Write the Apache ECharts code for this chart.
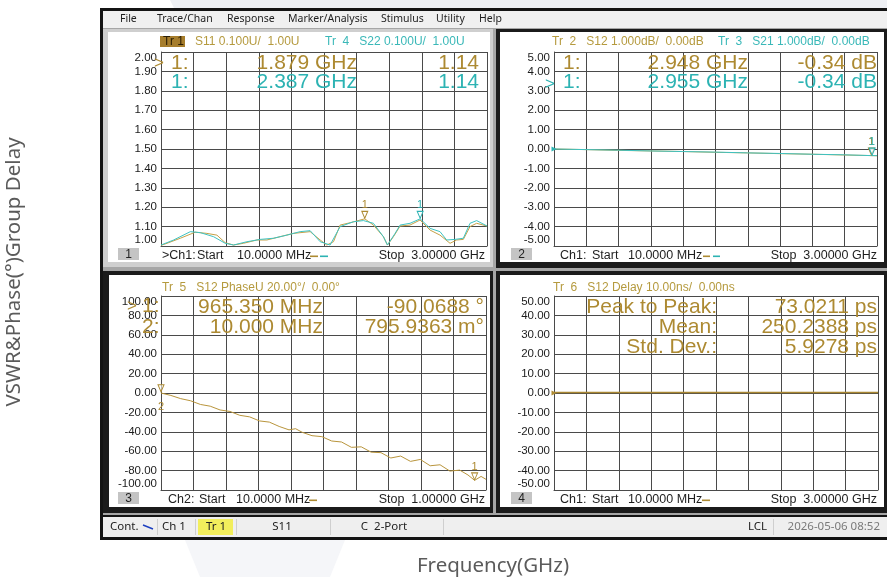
<!DOCTYPE html>
<html><head><meta charset="utf-8">
<script src="https://cdn.jsdelivr.net/npm/echarts@6/dist/echarts.min.js"></script>
<style>html,body{margin:0;padding:0;background:#fff}#c{width:887px;height:577px}</style>
</head><body><div id="c"></div>
<script>
// ---------- data ----------
// Panel 1: VSWR (S11 orange, S22 teal), 10 MHz .. 3 GHz
const s11Freq = [0.01,0.065,0.187,0.324,0.431,0.523,0.599,0.675,0.767,0.890,0.981,1.103,1.225,1.378,1.470,1.531,1.592,1.653,1.745,1.879,1.958,2.050,2.087,2.142,2.203,2.294,2.386,2.478,2.569,2.661,2.722,2.783,2.844,2.905,3.0];
const s11Vswr = [1.003,1.014,1.040,1.071,1.065,1.056,1.017,1.005,1.014,1.031,1.031,1.048,1.065,1.074,1.031,1.005,1.022,1.108,1.120,1.140,1.108,1.048,1.005,1.048,1.103,1.108,1.134,1.082,1.056,1.014,1.031,1.034,1.100,1.117,1.103];
const s22Freq = [0.01,0.126,0.279,0.370,0.492,0.599,0.675,0.798,0.920,1.042,1.164,1.286,1.378,1.470,1.561,1.653,1.775,1.867,1.958,2.050,2.087,2.157,2.203,2.294,2.387,2.478,2.569,2.630,2.706,2.783,2.844,2.905,3.0];
const s22Vswr = [1.005,1.031,1.074,1.069,1.048,1.014,1.005,1.022,1.034,1.040,1.056,1.074,1.079,1.022,1.005,1.100,1.125,1.131,1.117,1.048,1.005,1.065,1.108,1.117,1.140,1.091,1.074,1.031,1.034,1.040,1.117,1.131,1.103];
// Panel 2: transmission (S12 orange, S21 teal) dB
const tlFreq  = [0.01,0.3,0.6,0.9,1.2,1.5,1.8,2.1,2.4,2.7,2.95,3.0];
const s12Loss = [0.00,-0.03,-0.07,-0.10,-0.13,-0.17,-0.20,-0.24,-0.27,-0.31,-0.34,-0.35];
const s21Loss = [0.00,-0.03,-0.06,-0.10,-0.13,-0.16,-0.20,-0.23,-0.27,-0.30,-0.34,-0.34];
// Panel 3: S12 unwrapped phase (deg), 10 MHz .. 1 GHz (MHz)
const phFreq   = [10,40,70,100,130,160,190,220,250,280,310,340,370,400,420,440,470,500,530,560,590,620,650,680,710,740,770,800,830,860,890,920,945,965.35,985,1000];
const s12Phase = [0,-2.5,-5.8,-8.0,-11.8,-13.6,-17.5,-19.0,-23.0,-24.6,-28.8,-30.0,-34.5,-38.0,-36.8,-40.5,-44.0,-45.0,-49.5,-50.5,-56.0,-55.5,-61.0,-61.5,-67.0,-65.0,-70.5,-68.5,-75.0,-74.0,-80.5,-79.5,-84.5,-90.07,-86.0,-89.0];
// Panel 4: S12 group delay (ns)
const gdFreq   = [0.01,0.3,0.6,0.9,1.2,1.5,1.8,2.1,2.4,2.7,3.0];
const s12Delay = [0.26,0.25,0.24,0.25,0.26,0.25,0.24,0.25,0.26,0.25,0.25];
// markers
const vswrMarkers = {s11:[1.879,1.14], s22:[2.387,1.14]};
const tlMarkers   = {s12:[2.948,-0.34], s21:[2.955,-0.34]};
const phMarkers   = {m1:[965.35,-90.07], m2:[10,0.796]};
// axis scales [min,max,step]
const vswrScale = [1, 2, 0.1];
const dbScale   = [-5, 5, 1];
const phScale   = [-100, 100, 20];
const gdScale   = [-50, 50, 10];

// ---------- style ----------
const OR = '#ad8a32', TE = '#2db3b3', ORL = '#c6a047', TEL = '#3ec2c2';
const GC = '#4a4a4a';
const AR = '"Liberation Sans", Arial, sans-serif';
const NS = '"Noto Sans", sans-serif';

const zip = (a, b) => a.map((v, i) => [v, b[i]]);
const fmt = v => (Math.abs(v) < 1e-9 ? 0 : v).toFixed(2);

const gridBoxes = [
  {left:161, top:52, width:326, height:194},
  {left:554, top:52, width:323, height:194},
  {left:161, top:296, width:325, height:194},
  {left:554, top:296, width:324, height:194}
];
const xRanges = [[0.01,3],[0.01,3],[10,1000],[0.01,3]];
const yScales = [vswrScale, dbScale, phScale, gdScale];

const xAxes = [], yAxes = [];
gridBoxes.forEach((g, i) => {
  xAxes.push({type:'value', gridIndex:i, min:0, max:10, interval:1,
    axisLine:{show:true, onZero:false, lineStyle:{color:GC, width:1}},
    axisTick:{show:false}, axisLabel:{show:false},
    splitLine:{show:true, lineStyle:{color:GC, width:1}}});
  xAxes.push({type:'value', gridIndex:i, min:xRanges[i][0], max:xRanges[i][1], show:false});
  const s = yScales[i];
  yAxes.push({type:'value', gridIndex:i, min:s[0], max:s[1], interval:s[2],
    axisLine:{show:true, onZero:false, lineStyle:{color:GC, width:1}},
    axisTick:{show:false},
    splitLine:{show:true, lineStyle:{color:GC, width:1}},
    axisLabel:{color:'#1c1c1c', fontSize:11.5, fontFamily:AR, margin:4, formatter:fmt,
      verticalAlignMaxLabel:'top', verticalAlignMinLabel:'bottom'}});
});

function mk(coord, txt, color, below) {
  return {coord, symbol:'triangle', symbolRotate:180, symbolSize:[6,7], symbolOffset:[0,-4],
    itemStyle:{color:'rgba(255,255,255,0.6)', borderColor:color, borderWidth:1},
    label:{show:true, formatter:txt, position: below ? 'bottom' : 'top', distance: below ? 9 : 0,
      color, fontSize:11, fontFamily:AR}};
}
function refMk(coord, color) {
  return {coord, symbol:'triangle', symbolRotate:-90, symbolSize:[5,5], symbolOffset:[0,0],
    itemStyle:{color}, label:{show:false}};
}
function line(xi, yi, data, color, width, marks) {
  return {type:'line', xAxisIndex:xi, yAxisIndex:yi, data, showSymbol:false, symbol:'none',
    lineStyle:{color, width}, itemStyle:{color}, animation:false, z:3,
    markPoint: marks ? {animation:false, data:marks} : undefined};
}

const series = [
  line(1, 0, zip(s11Freq, s11Vswr), ORL, 1, [mk(vswrMarkers.s11, '1', OR)]),
  line(1, 0, zip(s22Freq, s22Vswr), TEL, 1, [mk(vswrMarkers.s22, '1', TE)]),
  line(3, 1, zip(tlFreq, s12Loss), ORL, 1, [mk(tlMarkers.s12, '1', OR)]),
  line(3, 1, zip(tlFreq, s21Loss), TEL, 1, [mk(tlMarkers.s21, '1', TE), refMk([0.01,0], TE)]),
  line(5, 2, zip(phFreq, s12Phase), '#b9953c', 1, [mk(phMarkers.m1, '1', OR), mk(phMarkers.m2, '2', OR, true)]),
  line(7, 3, zip(gdFreq, s12Delay), '#a98732', 1.5, [refMk([0.01,0], OR)])
];

// ---------- chrome (graphic) ----------
const G = [];
const rect = (x, y, w, h, fill, z, stroke) => G.push({type:'rect', z: z == null ? -5 : z, silent:true,
  shape:{x, y, width:w, height:h}, style:{fill, stroke: stroke || null, lineWidth: stroke ? 1 : 0}});
const txt = (x, y, text, color, size, align, font, extra) => G.push(Object.assign({type:'text', z:60, silent:true, x, y,
  style:{text, fill:color, fontSize:size, fontFamily:font || AR, align: align || 'left', textAlign: align || 'left',
    verticalAlign:'middle', textVerticalAlign:'middle'}}, extra || {}));

// page background shapes
G.push({type:'polygon', z:-9, silent:true, shape:{points:[[170,0],[887,0],[887,10],[175,10]]}, style:{fill:'#eef0f4'}});
G.push({type:'polygon', z:-9, silent:true, shape:{points:[[185,540],[345,540],[330,577],[200,577]]}, style:{fill:'#f5f6f9'}});
// screenshot frame
rect(100, 8, 787, 532, '#141414', -8);
rect(103, 11, 784, 17, '#f0f0f0', -7);
rect(103, 28, 784, 487, '#a6a6a6', -7);
// panel 1 (light frame)
rect(103, 29, 390, 238, '#cfcfcf', -6);
rect(108, 32, 382, 230, '#ffffff', -5);
// panel 2, 3, 4 (dark frame)
rect(496, 29, 391, 239, '#1b1b1b', -6);
rect(500, 32, 384, 230, '#ffffff', -5);
rect(103, 271, 390, 242, '#1b1b1b', -6);
rect(109, 275, 381, 232, '#ffffff', -5);
rect(496, 271, 391, 242, '#1b1b1b', -6);
rect(500, 275, 384, 232, '#ffffff', -5);
// status bar
rect(103, 517, 784, 20, '#efefef', -6);

// menu
[[120,'File'],[157,'Trace/Chan'],[227,'Response'],[288,'Marker/Analysis'],[381,'Stimulus'],[436,'Utility'],[479,'Help']]
  .forEach(m => txt(m[0], 19, m[1], '#1e1e1e', 10.5, 'left', NS));

// headers
rect(160, 36, 25, 11, '#a67d2c', 55);
txt(163, 42, 'Tr 1', '#2a1d04', 12);
txt(195, 42, 'S11 0.100U/  1.00U', '#b59a3e', 12);
txt(325, 42, 'Tr  4   S22 0.100U/  1.00U', '#3ab8b8', 12);
txt(552, 42, 'Tr  2   S12 1.000dB/  0.00dB', '#b59a3e', 12);
txt(718, 42, 'Tr  3   S21 1.000dB/  0.00dB', '#3ab8b8', 12);
txt(162, 288, 'Tr  5   S12 PhaseU 20.00°/  0.00°', '#b59a3e', 12);
txt(553, 288, 'Tr  6   S12 Delay 10.00ns/  0.00ns', '#b59a3e', 12);

// marker tables
const BIG = 21;
txt(154, 63, '>', OR, 17);
txt(171, 63, '1:', OR, BIG);
txt(357, 63, '1.879 GHz', OR, BIG, 'right');
txt(479, 63, '1.14', OR, BIG, 'right');
txt(171, 82, '1:', TE, BIG);
txt(357, 82, '2.387 GHz', TE, BIG, 'right');
txt(479, 82, '1.14', TE, BIG, 'right');

txt(563, 63, '1:', OR, BIG);
txt(748, 63, '2.948 GHz', OR, BIG, 'right');
txt(877, 63, '-0.34 dB', OR, BIG, 'right');
txt(545, 84, '>', TE, 17);
txt(563, 82, '1:', TE, BIG);
txt(748, 82, '2.955 GHz', TE, BIG, 'right');
txt(877, 82, '-0.34 dB', TE, BIG, 'right');

txt(127, 306, '>', OR, 17);
txt(142, 306, '1:', OR, BIG);
txt(323, 307, '965.350 MHz', OR, BIG, 'right');
txt(484, 307, '-90.0688 °', OR, BIG, 'right');
txt(142, 327, '2:', OR, BIG);
txt(323, 327, '10.000 MHz', OR, BIG, 'right');
txt(484, 327, '795.9363 m°', OR, BIG, 'right');

txt(717, 307, 'Peak to Peak:', OR, BIG, 'right');
txt(877, 307, '73.0211 ps', OR, BIG, 'right');
txt(717, 327, 'Mean:', OR, BIG, 'right');
txt(877, 327, '250.2388 ps', OR, BIG, 'right');
txt(717, 347, 'Std. Dev.:', OR, BIG, 'right');
txt(877, 347, '5.9278 ps', OR, BIG, 'right');

// footers
function footer(bx, by, num, chTxt, chX, startX, freqX, dashes, stopX, stopTxt) {
  rect(bx, by, 21, 12, '#c4c4c4', 55);
  txt(bx + 10.5, by + 6.5, num, '#222', 12, 'center');
  const y = by + 7.5;
  txt(chX, y, chTxt, '#1e1e1e', 12.5);
  txt(startX, y, 'Start', '#1e1e1e', 12.5);
  txt(freqX, y, '10.0000 MHz', '#1e1e1e', 12.5);
  dashes.forEach(d => rect(d[0], y, d[1], 1.6, d[2], 55));
  txt(stopX, y, 'Stop  ' + stopTxt, '#1e1e1e', 12.5, 'right');
}
footer(118, 248, '1', '>Ch1:', 162, 197, 237, [[310,8,OR],[320,8,TE]], 485, '3.00000 GHz');
footer(511, 248, '2', 'Ch1:', 560, 592, 628, [[703,7,OR],[713,7,TE]], 877, '3.00000 GHz');
footer(118, 492, '3', 'Ch2:', 168, 199, 236, [[309,8,OR]], 485, '1.00000 GHz');
footer(511, 492, '4', 'Ch1:', 560, 592, 628, [[702,8,OR]], 877, '3.00000 GHz');

// status bar
const SB = 527;
txt(110, SB, 'Cont.', '#222', 11.5, 'left', NS);
G.push({type:'line', z:60, silent:true, shape:{x1:143, y1:525, x2:153, y2:529}, style:{stroke:'#1c3fc0', lineWidth:1.5}});
txt(162, SB, 'Ch 1', '#222', 11.5, 'left', NS);
rect(198, 519, 35, 16, '#f2ee5c', 55);
txt(206, SB, 'Tr 1', '#222', 11.5, 'left', NS);
txt(282, SB, 'S11', '#222', 11.5, 'center', NS);
txt(384, SB, 'C  2-Port', '#222', 11.5, 'center', NS);
txt(748, SB, 'LCL', '#222', 11.5, 'left', NS);
txt(880, SB, '2026-05-06 08:52', '#7a7a7a', 11.5, 'right', NS);
[157, 195, 236, 330, 443, 773].forEach(x => rect(x, 519, 1, 16, '#cfcfcf', 55));

// outer titles
txt(14, 272, 'VSWR&Phase(°)Group Delay', '#5b5b5b', 20.5, 'center', NS, {rotation: Math.PI / 2});
txt(493, 566, 'Frequency(GHz)', '#5b5b5b', 20.5, 'center', NS);

const chart = echarts.init(document.getElementById('c'), null, {renderer:'canvas'});
chart.setOption({
  backgroundColor:'#ffffff',
  animation:false,
  grid: gridBoxes.map(g => Object.assign({containLabel:false}, g)),
  xAxis: xAxes, yAxis: yAxes, series,
  graphic: {elements: G}
});
</script></body></html>
